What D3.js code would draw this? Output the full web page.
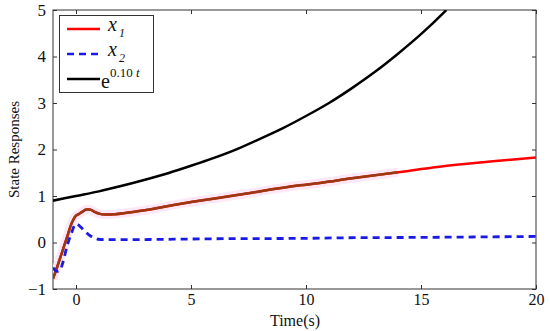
<!DOCTYPE html>
<html><head><meta charset="utf-8">
<script src="https://cdn.jsdelivr.net/npm/d3@7"></script>
<style>body{margin:0;background:#fff}svg{display:block}</style>
</head><body>
<svg id="c" width="550" height="331"></svg>
<script>
// Data
const x1T = [-1, -0.8, -0.6, -0.4, -0.2, -0.05, 0.15, 0.3, 0.45, 0.6, 0.8, 1.0, 1.26, 1.7, 2.2, 3.2, 4.5, 5, 7, 9.74, 10.6, 12, 14, 15.8, 18, 20];
const x1V = [-0.78, -0.5, -0.2, 0.1, 0.4, 0.55, 0.62, 0.67, 0.71, 0.71, 0.66, 0.62, 0.6, 0.61, 0.64, 0.71, 0.83, 0.87, 1.02, 1.23, 1.28, 1.38, 1.51, 1.63, 1.74, 1.83];
const x2T = [-1, -0.9, -0.8, -0.7, -0.57, -0.4, -0.2, 0, 0.15, 0.35, 0.6, 0.8, 0.96, 1.3, 2, 3.2, 6, 10, 11.5, 15, 20];
const x2V = [-0.54, -0.6, -0.62, -0.6, -0.43, -0.1, 0.2, 0.4, 0.36, 0.26, 0.15, 0.1, 0.07, 0.06, 0.06, 0.065, 0.08, 0.09, 0.1, 0.11, 0.13];
const eT = [-1, 0, 1, 2, 3, 4, 5, 6, 7, 8, 9, 10, 11, 12, 13, 14, 15, 16, 16.1];
const eV = [0.9, 1.0, 1.1, 1.22, 1.35, 1.49, 1.65, 1.82, 2.01, 2.23, 2.46, 2.72, 3.0, 3.32, 3.67, 4.06, 4.48, 4.95, 5.0];
const brownEnd = 15.4;
const xTicks = [0, 5, 10, 15, 20];
const yTicks = [-1, 0, 1, 2, 3, 4, 5];

const FONT = "Liberation Serif, Times New Roman, Times, Nimbus Roman, FreeSerif, DejaVu Serif, serif";
const svg = d3.select("#c");
const L = 53, R = 536, T = 10, B = 289;
const x = d3.scaleLinear().domain([-1, 20]).range([L, R]);
const y = d3.scaleLinear().domain([-1, 5]).range([B, T]);

svg.append("defs").append("clipPath").attr("id","clip").append("rect")
  .attr("x",L).attr("y",T).attr("width",R-L).attr("height",B-T);

const tl = 4;
const ax = svg.append("g").attr("transform",`translate(0,${B})`)
  .call(d3.axisBottom(x).tickValues(xTicks).tickSizeInner(-tl).tickSizeOuter(0).tickPadding(5).tickFormat(d3.format("d")));
const axT = svg.append("g").attr("transform",`translate(0,${T})`)
  .call(d3.axisTop(x).tickValues(xTicks).tickSizeInner(-tl).tickSizeOuter(0).tickFormat(""));
const ay = svg.append("g").attr("transform",`translate(${L},0)`)
  .call(d3.axisLeft(y).tickValues(yTicks).tickSizeInner(-tl).tickSizeOuter(0).tickPadding(7).tickFormat(d => d < 0 ? "\u2212" + Math.abs(d) : d));
const ayR = svg.append("g").attr("transform",`translate(${R},0)`)
  .call(d3.axisRight(y).tickValues(yTicks).tickSizeInner(-tl).tickSizeOuter(0).tickFormat(""));
[ax, axT, ay, ayR].forEach(g => {
  g.attr("font-family", FONT).attr("font-size", 17);
  g.select(".domain").remove();
  g.selectAll("line").attr("stroke","#333");
  g.selectAll("text").attr("font-family", FONT).attr("font-size", 17).attr("fill","#111");
});
ax.selectAll("text").attr("font-size", 16);
svg.append("rect").attr("x",L).attr("y",T).attr("width",R-L).attr("height",B-T)
  .attr("fill","none").attr("stroke","#333").attr("stroke-width",1);

const line = d3.line().x(d => x(d[0])).y(d => y(d[1])).curve(d3.curveMonotoneX);
const g = svg.append("g").attr("clip-path","url(#clip)");
const x1 = x1T.map((t,i)=>[t,x1V[i]]);
const x1b = x1.filter(d => d[0] <= brownEnd);
g.append("path").attr("d", line(x1b)).attr("fill","none").attr("stroke","#fde8f7").attr("stroke-width",9);
g.append("path").attr("d", line(eT.map((t,i)=>[t,eV[i]]))).attr("fill","none").attr("stroke","#000").attr("stroke-width",2.5);
g.append("path").attr("d", line(x1)).attr("fill","none").attr("stroke","#ff0000").attr("stroke-width",2.5);
g.append("path").attr("d", line(x1b)).attr("fill","none").attr("stroke","#9b3a12").attr("stroke-width",2.5);
g.append("path").attr("d", line(x2T.map((t,i)=>[t,x2V[i]]))).attr("fill","none").attr("stroke","#1a1ae6").attr("stroke-width",2.8).attr("stroke-dasharray","7,5");

// legend
const lg = svg.append("g").attr("font-family", FONT);
lg.append("rect").attr("x",59.5).attr("y",15.5).attr("width",94).attr("height",77).attr("fill","#fff").attr("stroke","#333");
const rows = [29, 54, 79];
const styles = [{c:"#ff0000",d:null},{c:"#1a1ae6",d:"7,5"},{c:"#000",d:null}];
rows.forEach((ry,i)=>{
  lg.append("line").attr("x1",67).attr("x2",100).attr("y1",ry).attr("y2",ry)
    .attr("stroke",styles[i].c).attr("stroke-width",2.5).attr("stroke-dasharray",styles[i].d);
});
function sub(row, idx){
  const t = lg.append("text").attr("x",108).attr("y",rows[row]+2).attr("font-family", FONT).attr("font-size",20).attr("fill","#111");
  t.append("tspan").attr("font-style","italic").text("x");
  t.append("tspan").attr("font-style","italic").attr("font-size",12).attr("dy",6).attr("dx",2).text(idx);
}
sub(0, "1");
sub(1, "2");
const et = lg.append("text").attr("x",101).attr("y",rows[2]+9).attr("font-family", FONT).attr("font-size",20).attr("fill","#111");
et.append("tspan").text("e");
et.append("tspan").attr("font-size",13).attr("dy",-11).text("0.10 ");
et.append("tspan").attr("font-size",13).attr("font-style","italic").text("t");

// axis labels
svg.append("text").attr("x",295).attr("y",326).attr("text-anchor","middle")
  .attr("font-family", FONT).attr("font-size",16).attr("fill","#111").text("Time(s)");
svg.append("text").attr("transform",`translate(19,${(T+B)/2}) rotate(-90)`).attr("text-anchor","middle")
  .attr("font-family", FONT).attr("font-size",15).attr("fill","#111").text("State Responses");
</script>
</body></html>
